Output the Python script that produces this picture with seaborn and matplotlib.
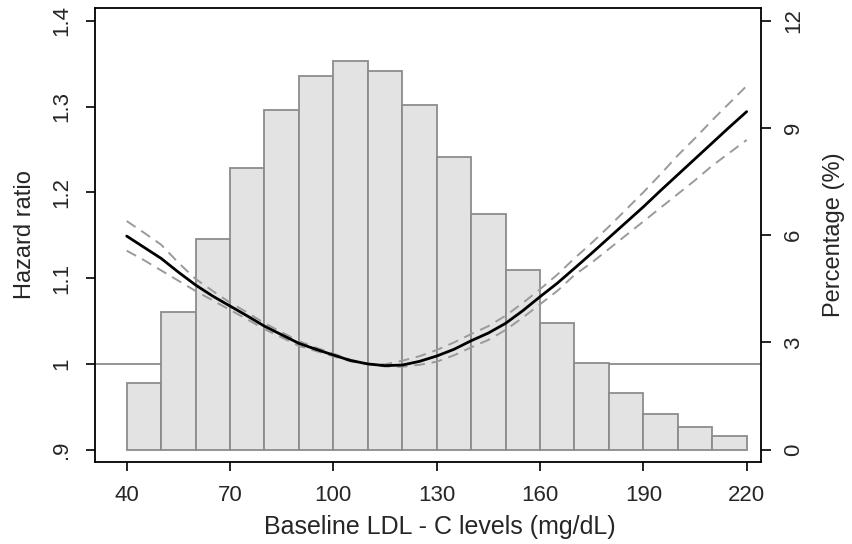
import numpy as np
import pandas as pd
import seaborn as sns
import matplotlib
matplotlib.use("Agg")
import matplotlib.pyplot as plt
from matplotlib.transforms import blended_transform_factory

# ---- data ----
bin_edges = [40, 50, 60, 70, 80, 90, 100, 110, 120, 130, 140, 150, 160, 170, 180, 190, 200, 210, 220]
bin_centers = [45, 55, 65, 75, 85, 95, 105, 115, 125, 135, 145, 155, 165, 175, 185, 195, 205, 215]
pct = [1.86, 3.86, 5.89, 7.87, 9.50, 10.44, 10.87, 10.58, 9.64, 8.19, 6.60, 5.02, 3.55, 2.43, 1.59, 1.01, 0.65, 0.38]

ldl = [40, 45, 50, 55, 60, 65, 70, 75, 80, 85, 90, 95, 100, 105, 110, 115, 120, 125, 130,
       135, 140, 145, 150, 155, 160, 165, 170, 175, 180, 185, 190, 195, 200, 205, 210, 215, 220]
hr = [1.149, 1.136, 1.123, 1.107, 1.092, 1.079, 1.0675, 1.056, 1.044, 1.034, 1.024, 1.017, 1.0104,
      1.004, 1.000, 0.998, 0.9987, 1.003, 1.0092, 1.017, 1.027, 1.036, 1.0473, 1.062, 1.0783,
      1.094, 1.1114, 1.129, 1.147, 1.165, 1.183, 1.202, 1.2205, 1.239, 1.2575, 1.276, 1.294]
hr_lo = [1.132, 1.121, 1.109, 1.097, 1.085, 1.074, 1.063, 1.052, 1.0405, 1.031, 1.021, 1.015, 1.009,
         1.003, 1.000, 0.997, 0.9967, 0.999, 1.0026, 1.010, 1.0193, 1.028, 1.0395, 1.054, 1.0695,
         1.085, 1.1036, 1.118, 1.134, 1.150, 1.166, 1.182, 1.198, 1.214, 1.231, 1.246, 1.261]
hr_hi = [1.1665, 1.153, 1.139, 1.118, 1.099, 1.085, 1.0715, 1.060, 1.0475, 1.037, 1.0265, 1.019, 1.012,
         1.005, 1.000, 0.9995, 1.0037, 1.009, 1.0162, 1.025, 1.0348, 1.044, 1.0562, 1.071, 1.087,
         1.104, 1.123, 1.141, 1.160, 1.180, 1.200, 1.221, 1.243, 1.263, 1.284, 1.304, 1.324]

x_ticks = [40, 70, 100, 130, 160, 190, 220]
hr_ticks = [0.9, 1.0, 1.1, 1.2, 1.3, 1.4]
hr_tick_labels = [".9", "1", "1.1", "1.2", "1.3", "1.4"]
pct_ticks = [0, 3, 6, 9, 12]
pct_tick_labels = ["0", "3", "6", "9", "12"]

# ---- style ----
sns.set_style("white")
plt.rcParams["font.family"] = ["Liberation Sans", "DejaVu Sans"]

FS_TICK = 16
FS_YLABEL = 17
FS_XLABEL = 18

fig = plt.figure(figsize=(8.52, 5.44), dpi=100)
ax_pct = fig.add_axes([0.1115, 0.1507, 0.8928 - 0.1115, 0.9853 - 0.1507])
ax_hr = ax_pct.twinx()

hr_lim = (0.8857, 1.4148)
pct_lim = ((hr_lim[0] - 0.9) * 24, (hr_lim[1] - 0.9) * 24)

# histogram (percentage axis)
hist_df = pd.DataFrame({"ldl": bin_centers, "pct": pct})
sns.histplot(data=hist_df, x="ldl", weights="pct", bins=bin_edges, ax=ax_pct,
             color="#e3e3e3", edgecolor="#8c8c8c", linewidth=1.3, alpha=1, zorder=2)

# reference line at HR = 1, under the bars
ref_tr = blended_transform_factory(ax_pct.transAxes, ax_hr.transData)
ax_pct.plot([0, 1], [1.0, 1.0], transform=ref_tr, color="#8c8c8c", lw=1.3, zorder=1)

# hazard ratio curves
curve_df = pd.DataFrame({"ldl": ldl, "hr": hr, "lo": hr_lo, "hi": hr_hi})
sns.lineplot(data=curve_df, x="ldl", y="hi", ax=ax_hr, color="#9a9a9a", lw=1.4,
             linestyle=(0, (5.5, 3.5)))
sns.lineplot(data=curve_df, x="ldl", y="lo", ax=ax_hr, color="#9a9a9a", lw=1.4,
             linestyle=(0, (5.5, 3.5)))
sns.lineplot(data=curve_df, x="ldl", y="hr", ax=ax_hr, color="black", lw=2.0)

# limits
ax_pct.set_xlim(30.8, 224.07)
ax_pct.set_ylim(*pct_lim)
ax_hr.set_ylim(*hr_lim)

# axes placement
ax_pct.yaxis.tick_right()
ax_pct.yaxis.set_label_position("right")
ax_hr.yaxis.tick_left()
ax_hr.yaxis.set_label_position("left")

ax_pct.set_xticks(x_ticks)
ax_pct.set_xticklabels([str(t) for t in x_ticks], fontsize=FS_TICK)
ax_pct.set_yticks(pct_ticks)
ax_pct.set_yticklabels(pct_tick_labels, fontsize=FS_TICK, rotation=90, va="center")
ax_hr.set_yticks(hr_ticks)
ax_hr.set_yticklabels(hr_tick_labels, fontsize=FS_TICK, rotation=90, va="center")

ax_pct.tick_params(axis="x", bottom=True, length=6.5, width=1.2, color="black", pad=10)
ax_pct.tick_params(axis="y", right=True, left=False, length=7, width=1.2, color="black", pad=9)
ax_hr.tick_params(axis="y", left=True, right=False, length=6.5, width=1.2, color="black", pad=10)

ax_pct.set_xlabel("Baseline LDL - C levels (mg/dL)", fontsize=FS_XLABEL)
ax_pct.xaxis.set_label_coords(0.518, -0.117)
ax_pct.set_ylabel("Percentage (%)", fontsize=FS_YLABEL, labelpad=14)
ax_hr.set_ylabel("Hazard ratio", fontsize=FS_YLABEL, labelpad=11)

for s in ax_pct.spines.values():
    s.set_visible(True)
    s.set_color("black")
    s.set_linewidth(1.3)
for s in ax_hr.spines.values():
    s.set_visible(False)

fig.savefig("out.png", dpi=100)
